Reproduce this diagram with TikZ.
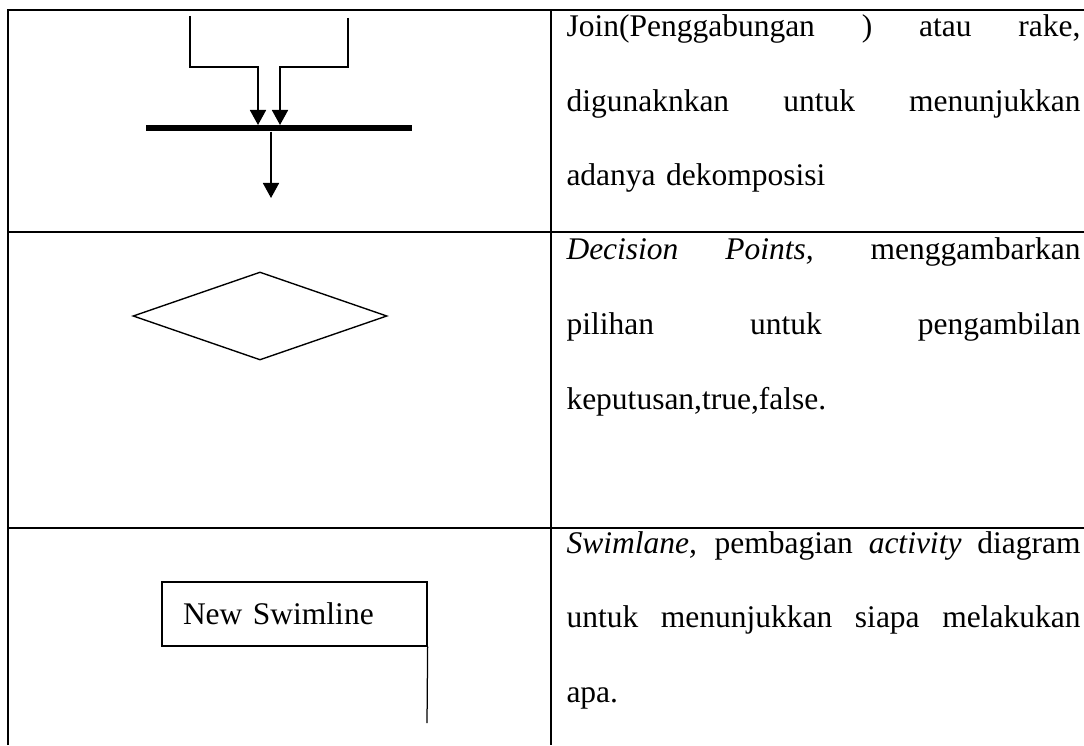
\documentclass[tikz,border=0pt]{standalone}
\usepackage{fontspec}
\setmainfont{Liberation Serif}
\usetikzlibrary{shapes.geometric,arrows.meta,positioning}

\newcommand{\fullline}[1]{{\spaceskip=0pt\xspaceskip=0pt\makebox[205.6pt][s]{#1}}}

\begin{document}
\begin{tikzpicture}[
      x=0.4pt, y=-0.4pt,
      grid/.style = {line width=0.9pt},
      desc/.style = {anchor=base west, inner sep=0pt, text width=205.6pt, align=left,
                     font=\fontsize{12.6pt}{29.8pt}\selectfont},
      flow/.style = {-{Triangle[width=6.4pt,length=6pt]}, line width=0.7pt},
      joinbar/.style = {fill=black, inner sep=0pt, minimum width=106.4pt, minimum height=2.6pt},
      decision/.style = {diamond, draw, line width=0.55pt, inner sep=0pt,
                         minimum width=101.6pt, minimum height=35.2pt},
      lane/.style = {draw, line width=0.5pt, inner xsep=8.4pt, inner ysep=0pt,
                     text width=89.2pt, minimum height=25.6pt, align=left,
                     font=\fontsize{12.6pt}{14pt}\selectfont}
      ]
      \useasboundingbox (0,0) rectangle (1084,745);
      % table
      \draw[grid] (8,745) -- (8,10) -- (1084,10);
      \draw[grid] (551,10) -- (551,745);
      \draw[grid] (8,232) -- (1084,232);
      \draw[grid] (8,528) -- (1084,528);
      % join
      \node[joinbar] (bar) at (279,128) {};
      \coordinate (inL) at (190,16);
      \coordinate (inR) at (348,18);
      \coordinate (jl) at (258,125);
      \coordinate (jr) at (280,125);
      \coordinate (out) at (271,198);
      \draw[flow] (inL) -- ++(0,51) -| (jl);
      \draw[flow] (inR) -- ++(0,49) -| (jr);
      \draw[flow] (bar.south -| out) -- (out);
      % decision
      \node[decision] (dec) at (260,316) {};
      % swimlane
      \node[lane] (lane) at (294.5,614) {New Swimline};
      \coordinate (laneEnd) at (427,723);
      \draw[line width=0.5pt] (lane.south east) -- (laneEnd);
      % texts
      \node[desc] (txtJoin) at (566,37) {\fullline{Join(Penggabungan ) atau rake,}\\
        \fullline{digunaknkan untuk menunjukkan}\\
        adanya dekomposisi};
      \node[desc] (txtDec) at (566,260) {\fullline{\textit{Decision Points,} menggambarkan}\\
        \fullline{pilihan untuk pengambilan}\\
        keputusan,true,false.};
      \node[desc] (txtLane) at (566,553) {\fullline{\textit{Swimlane,} pembagian \textit{activity} diagram}\\
        \fullline{untuk menunjukkan siapa melakukan}\\
        apa.};
\end{tikzpicture}
\end{document}
